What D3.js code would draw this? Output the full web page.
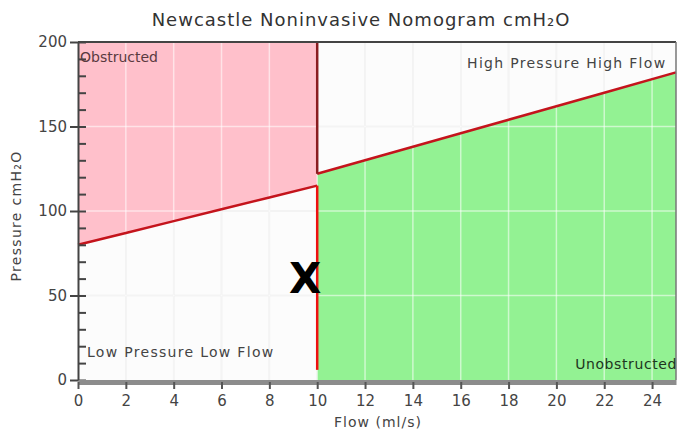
<!DOCTYPE html>
<html>
<head>
<meta charset="utf-8">
<script src="https://cdn.jsdelivr.net/npm/d3@7"></script>
<style>
  body { margin: 0; background: #fff; }
  text { font-family: "DejaVu Sans", Verdana, sans-serif; }
</style>
</head>
<body>
<div id="chart"></div>
<script>
// boundary lines
const obstructedFlow = [0, 2, 4, 6, 8, 10];
const obstructedPressure = [80, 87, 94, 101, 108, 115];
const unobstructedFlow = [10, 13, 16, 19, 22, 25];
const unobstructedPressure = [122, 134, 146, 158, 170, 182];
const patientPoint = [9.5, 60];
const xTicks = [0, 2, 4, 6, 8, 10, 12, 14, 16, 18, 20, 22, 24];
const yTicks = [0, 50, 100, 150, 200];
const regionLabels = ["Obstructed", "High Pressure High Flow", "Low Pressure Low Flow", "Unobstructed"];

const width = 680, height = 433;
const margin = { left: 78, right: 4, top: 42, bottom: 53 };

const svg = d3.select("#chart").append("svg")
    .attr("width", width)
    .attr("height", height);

const x = d3.scaleLinear().domain([0, 25]).range([margin.left, width - margin.right]);
const y = d3.scaleLinear().domain([0, 200]).range([height - margin.bottom, margin.top]);

const lower = obstructedFlow.map((f, i) => [f, obstructedPressure[i]]);
const upper = unobstructedFlow.map((f, i) => [f, unobstructedPressure[i]]);

// plot background
svg.append("rect")
    .attr("x", x(0)).attr("y", y(200))
    .attr("width", x(25) - x(0)).attr("height", y(0) - y(200))
    .attr("fill", "#fcfcfc");

// grid under the fills
function drawGrid(g, color, op) {
    g.selectAll(".vg").data(xTicks.filter(d => d > 0)).enter().append("line")
        .attr("x1", d => x(d)).attr("x2", d => x(d))
        .attr("y1", y(0)).attr("y2", y(200))
        .attr("stroke", color).attr("stroke-opacity", op).attr("stroke-width", 1.5);
    g.selectAll(".hg").data(yTicks.filter(d => d > 0 && d < 200)).enter().append("line")
        .attr("x1", x(0)).attr("x2", x(25))
        .attr("y1", d => y(d)).attr("y2", d => y(d))
        .attr("stroke", color).attr("stroke-opacity", op).attr("stroke-width", 1.5);
}
drawGrid(svg.append("g"), "#e6e6e6", 1);

// obstructed area (above the lower line)
svg.append("path")
    .datum(lower)
    .attr("d", d3.area().x(d => x(d[0])).y0(y(200)).y1(d => y(d[1])))
    .attr("fill", "#ffc0cb");

// unobstructed area (below the upper line)
svg.append("path")
    .datum(upper)
    .attr("d", d3.area().x(d => x(d[0])).y0(y(0)).y1(d => y(d[1])))
    .attr("fill", "#93f293");

// light grid on top of the fills
drawGrid(svg.append("g"), "#ffffff", 0.55);

// boundary lines
const line = d3.line().x(d => x(d[0])).y(d => y(d[1]));
svg.append("path").datum(lower).attr("d", line)
    .attr("fill", "none").attr("stroke", "#c4141c").attr("stroke-width", 2.5);
svg.append("path").datum(upper).attr("d", line)
    .attr("fill", "none").attr("stroke", "#c4141c").attr("stroke-width", 2.5);

// vertical boundaries at 10 ml/s
svg.append("line")
    .attr("x1", x(10)).attr("x2", x(10))
    .attr("y1", y(200)).attr("y2", y(unobstructedPressure[0]))
    .attr("stroke", "#8a1c20").attr("stroke-width", 2.5);
svg.append("line")
    .attr("x1", x(10)).attr("x2", x(10))
    .attr("y1", y(obstructedPressure[obstructedPressure.length - 1])).attr("y2", y(6))
    .attr("stroke", "#ee1111").attr("stroke-width", 2.5);

// frame
svg.append("line")
    .attr("x1", x(0)).attr("x2", x(25)).attr("y1", y(200)).attr("y2", y(200))
    .attr("stroke", "#444").attr("stroke-width", 2);
svg.append("line")
    .attr("x1", x(25)).attr("x2", x(25)).attr("y1", y(200)).attr("y2", y(0))
    .attr("stroke", "#777").attr("stroke-width", 1.5);

// y axis
const yAxis = svg.append("g").attr("transform", `translate(${x(0)},0)`)
    .call(d3.axisLeft(y).tickValues(yTicks).tickSize(8).tickSizeOuter(0));
yAxis.select(".domain").attr("stroke", "#444").attr("stroke-width", 2);
yAxis.selectAll(".tick line").attr("stroke", "#444").attr("stroke-width", 2);
yAxis.selectAll("text").attr("font-size", 15).attr("fill", "#444")
    .attr("font-family", "DejaVu Sans, sans-serif").attr("x", -11);
svg.append("g").attr("transform", `translate(${x(0)},0)`)
    .call(d3.axisRight(y).tickValues(d3.range(0, 201, 10)).tickSize(8).tickFormat(""))
    .call(g => g.select(".domain").remove())
    .selectAll("line").attr("stroke", "#444").attr("stroke-width", 2);

// x axis
const xAxis = svg.append("g").attr("transform", `translate(0,${y(0) + 2})`)
    .call(d3.axisBottom(x).tickValues(xTicks).tickSize(7).tickSizeOuter(0));
xAxis.select(".domain").attr("stroke", "#8c8c8c").attr("stroke-width", 5);
xAxis.selectAll(".tick line").attr("stroke", "#555").attr("stroke-width", 2);
xAxis.selectAll("text").attr("font-size", 15).attr("fill", "#444")
    .attr("font-family", "DejaVu Sans, sans-serif").attr("dy", "0.9em");

// titles
svg.append("text").attr("x", 361).attr("y", 26).attr("text-anchor", "middle")
    .attr("font-size", 18).attr("letter-spacing", 1).attr("fill", "#333")
    .text("Newcastle Noninvasive Nomogram cmH\u2082O");
svg.append("text").attr("x", 378).attr("y", 427).attr("text-anchor", "middle")
    .attr("font-size", 14).attr("letter-spacing", 1).attr("fill", "#444").text("Flow (ml/s)");
svg.append("text")
    .attr("transform", `translate(21,${(y(0) + y(200)) / 2 + 5}) rotate(-90)`)
    .attr("text-anchor", "middle").attr("font-size", 14).attr("letter-spacing", 1.3).attr("fill", "#444")
    .text("Pressure cmH\u2082O");

// region labels
svg.append("text").attr("x", x(0) + 2).attr("y", 62)
    .attr("font-size", 14).attr("fill", "#5a3a40").text(regionLabels[0]);
svg.append("text").attr("x", x(24.6)).attr("y", 68).attr("text-anchor", "end")
    .attr("font-size", 14).attr("letter-spacing", 1.3).attr("fill", "#444").text(regionLabels[1]);
svg.append("text").attr("x", x(0) + 9).attr("y", 357)
    .attr("font-size", 14).attr("letter-spacing", 1.3).attr("fill", "#444").text(regionLabels[2]);
svg.append("text").attr("x", 677).attr("y", 369).attr("text-anchor", "end")
    .attr("font-size", 14).attr("letter-spacing", 0.6).attr("fill", "#203520").text(regionLabels[3]);

// patient measurement
svg.append("text")
    .attr("x", x(patientPoint[0])).attr("y", y(patientPoint[1]))
    .attr("text-anchor", "middle").attr("dominant-baseline", "central")
    .attr("font-size", 42).attr("font-weight", "bold").attr("fill", "#000")
    .text("X");
</script>
</body>
</html>
